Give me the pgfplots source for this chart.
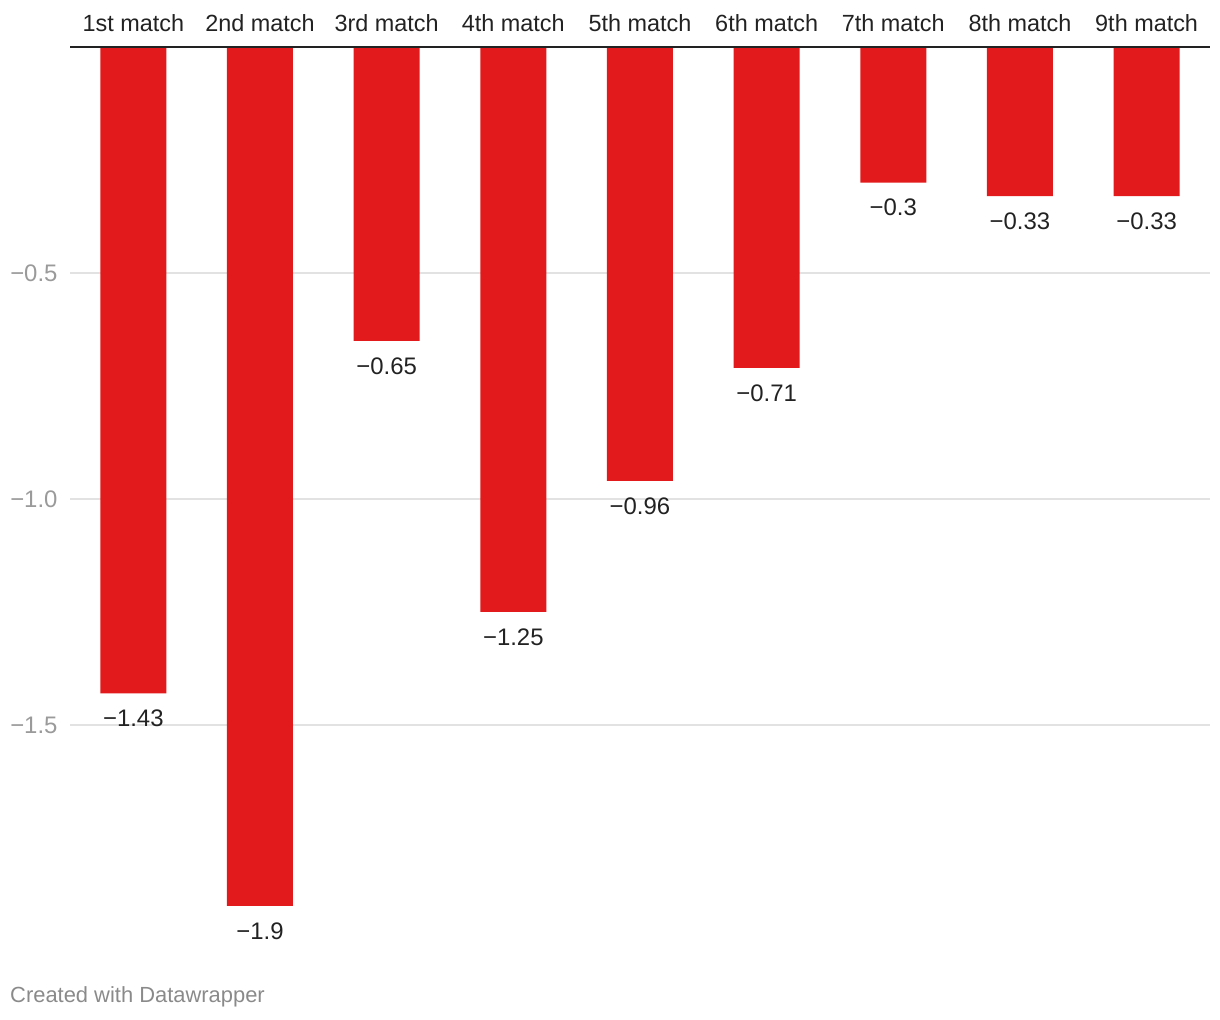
\documentclass[border=0pt]{standalone}
\usepackage{pgfplots}
\pgfplotsset{compat=1.18}
\usepackage{fontspec}
\setmainfont{Liberation Sans}
\definecolor{barred}{HTML}{E31A1C}
\definecolor{txt}{HTML}{222222}
\definecolor{gridc}{HTML}{E2E2E2}
\definecolor{ticktxt}{HTML}{9A9A9A}
\definecolor{credit}{HTML}{8A8A8A}
\begin{document}
\begin{tikzpicture}
\useasboundingbox (0,0) rectangle (1220bp,1020bp);
\begin{axis}[
    at={(70bp,973bp)}, anchor=north west,
    scale only axis, width=1140bp, height=904bp,
    xmin=-0.5, xmax=8.5, ymin=-2, ymax=0,
    clip=false,
    axis line style={draw=none}, tick style={draw=none},
    xtick={0,...,8},
    xticklabels={1st match,2nd match,3rd match,4th match,5th match,6th match,7th match,8th match,9th match},
    xticklabel pos=upper,
    xticklabel style={font=\fontsize{23.5}{27}\selectfont, text=txt, yshift=7bp},
    ytick={-1.5,-1,-0.5},
    yticklabels={−1.5,−1.0,−0.5},
    yticklabel style={font=\fontsize{24}{28}\selectfont, text=ticktxt, xshift=-9bp},
    ymajorgrids, grid style={gridc, line width=1.2bp},
    ybar, bar width=66bp,
    point meta=explicit symbolic,
    nodes near coords,
    every node near coord/.append style={font=\fontsize{24}{28}\selectfont, text=txt, anchor=north, yshift=-13bp},
]
\addplot[fill=barred, draw=none] coordinates {
    (0,-1.43) [−1.43]
    (1,-1.9)  [−1.9]
    (2,-0.65) [−0.65]
    (3,-1.25) [−1.25]
    (4,-0.96) [−0.96]
    (5,-0.71) [−0.71]
    (6,-0.3)  [−0.3]
    (7,-0.33) [−0.33]
    (8,-0.33) [−0.33]
};
\draw[txt, line width=2.2bp] (axis cs:-0.5,0) -- (axis cs:8.5,0);
\end{axis}
\node[anchor=west, text=credit, font=\fontsize{22}{26}\selectfont, inner sep=0] at (10bp,23bp) {Created with Datawrapper};
\end{tikzpicture}
\end{document}
